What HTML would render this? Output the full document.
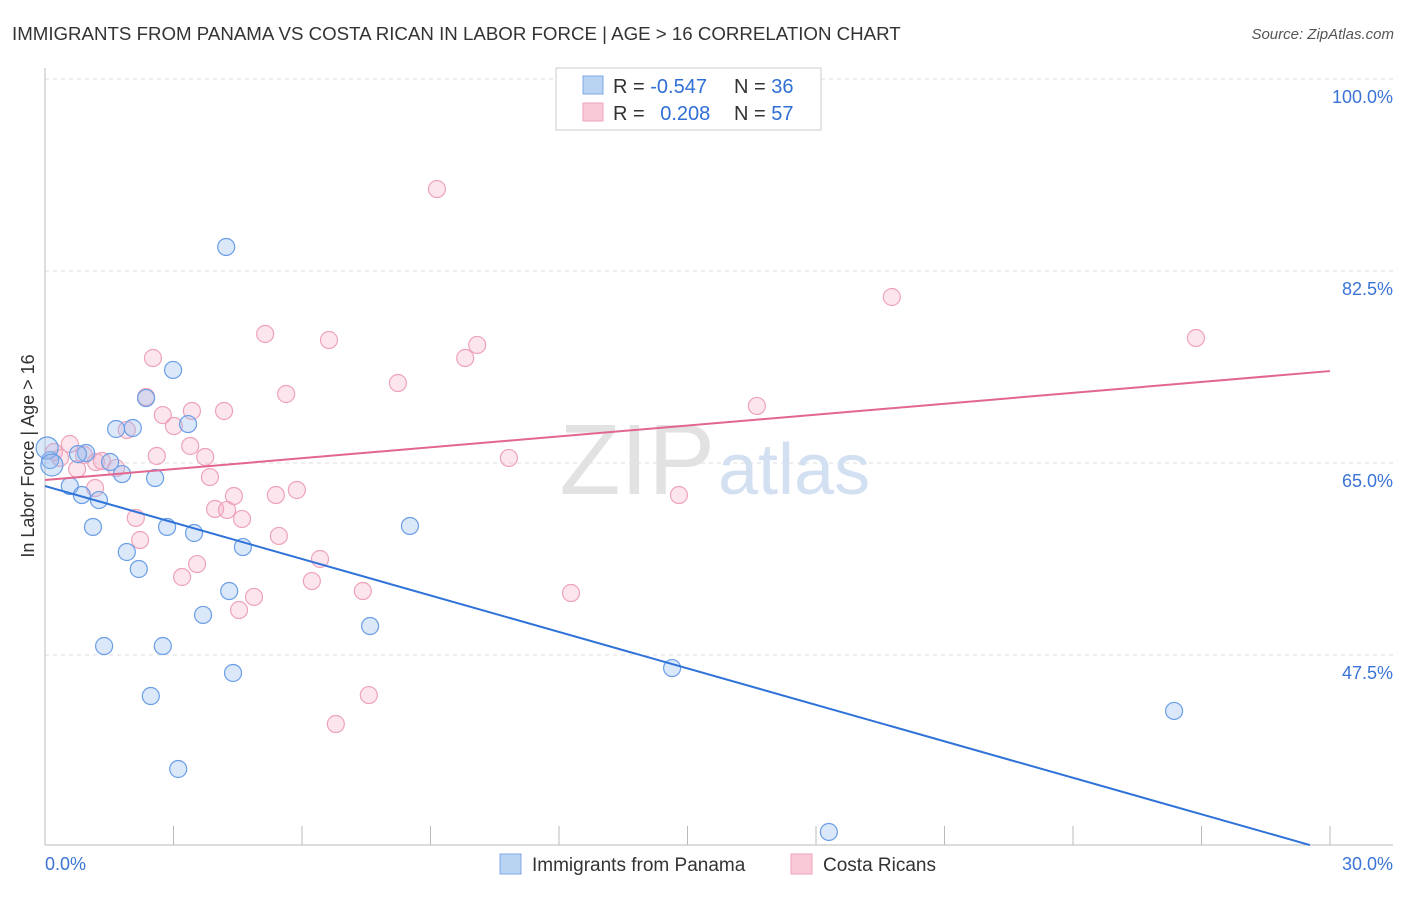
<!DOCTYPE html>
<html><head><meta charset="utf-8"><style>
body{margin:0;background:#fff;font-family:"Liberation Sans",sans-serif;}
svg text{font-family:"Liberation Sans",sans-serif;}
</style></head><body>
<svg id="chart" width="1406" height="892">
<text x="12" y="40" font-size="18.7" fill="#333">IMMIGRANTS FROM PANAMA VS COSTA RICAN IN LABOR FORCE | AGE &gt; 16 CORRELATION CHART</text>
<text x="1394" y="39" font-size="15" fill="#555" font-style="italic" text-anchor="end">Source: ZipAtlas.com</text>
<g id="grid"></g>
<text x="715" y="494" font-size="100" fill="#e2e2e2" text-anchor="end" font-family="Liberation Serif">ZIP</text>
<text x="718" y="494" font-size="72" fill="#d3e0f2">atlas</text>
<g id="pts"></g>
<g id="lines"></g>
<text transform="translate(34,456) rotate(-90)" font-size="18" fill="#333" text-anchor="middle">In Labor Force | Age &gt; 16</text>
<g>
<rect x="556" y="68" width="265" height="62" fill="#fff" stroke="#ccc"/>
<rect x="583" y="76" width="20" height="18" fill="#b9d3f3" stroke="#7ea9e6"/>
<rect x="583" y="103" width="20" height="18" fill="#f9c9d7" stroke="#eea3ba"/>
<text x="613" y="93" font-size="20" fill="#333">R = <tspan fill="#2f6fd6">-0.547</tspan></text>
<text x="734" y="93" font-size="20" fill="#333">N = <tspan fill="#2f6fd6">36</tspan></text>
<text x="613" y="120" font-size="20" fill="#333">R = <tspan fill="#2f6fd6" dx="10">0.208</tspan></text>
<text x="734" y="120" font-size="20" fill="#333">N = <tspan fill="#2f6fd6">57</tspan></text>
</g>
<g>
<rect x="500" y="854" width="21" height="20" fill="#b9d3f3" stroke="#7ea9e6"/>
<text x="532" y="871" font-size="19" fill="#333">Immigrants from Panama</text>
<rect x="791" y="854" width="21" height="20" fill="#f9c9d7" stroke="#eea3ba"/>
<text x="823" y="871" font-size="19" fill="#333">Costa Ricans</text>
</g>
</svg>
<script>
const yTicks=[100,82.5,65,47.5];
const xTicks=[0,3,6,9,12,15,18,21,24,27,30];
const blueX=[4.23,2.99,2.36,1.66,2.05,3.34,0.96,0.77,1.52,1.80,2.57,0.12,0.58,0.86,1.26,1.12,2.85,3.48,8.52,1.91,4.62,2.19,4.30,3.69,7.59,1.38,2.75,4.39,2.47,14.64,26.36,3.11,18.30,0.05,0.16];
const blueY=[84.69,73.48,70.92,68.10,68.19,68.55,65.91,65.81,65.09,63.99,63.63,65.27,62.90,62.08,61.62,59.17,59.17,58.62,59.26,56.89,57.34,55.34,53.33,51.15,50.14,48.32,48.32,45.86,43.76,46.31,42.40,37.11,31.37,66.37,64.82];
const pinkX=[9.15,19.77,5.14,6.63,10.09,2.52,9.81,8.24,26.87,5.63,2.36,16.62,4.18,3.43,2.75,3.01,1.91,3.39,0.58,0.21,1.19,1.66,0.75,2.61,3.74,10.83,3.85,1.17,4.41,5.39,5.88,14.80,3.97,4.25,4.60,2.12,2.22,5.46,6.42,3.55,3.20,6.23,7.42,12.28,4.88,4.53,7.56,6.79,0.35,0.91,1.33];
const pinkY=[89.97,80.13,76.76,76.21,75.76,74.57,74.57,72.29,76.39,71.29,71.02,70.20,69.74,69.74,69.37,68.37,68.01,66.55,66.73,66.00,65.09,64.54,64.45,65.64,65.55,65.46,63.72,62.72,61.99,62.08,62.54,62.08,60.81,60.72,59.90,59.99,57.98,58.35,56.25,55.79,54.61,54.24,53.33,53.15,52.79,51.60,43.85,41.21,65.46,65.73,65.18];
const blueTrendX=[0,29.53];
const blueTrendY=[62.9,30.18];
const pinkTrendX=[0,30];
const pinkTrendY=[63.45,73.38];
const NS='http://www.w3.org/2000/svg';
const sx=v=>45+v/30*1285;
const sy=v=>79+(100-v)/17.5*192;
function mk(tag,attrs,parent){const e=document.createElementNS(NS,tag);for(const k in attrs)e.setAttribute(k,attrs[k]);parent.appendChild(e);return e;}
const grid=document.getElementById('grid');
yTicks.forEach(t=>{
 const l=mk('line',{x1:45,x2:1393,y1:sy(t),y2:sy(t),stroke:'#ddd','stroke-dasharray':'4,4'},grid);
 
 
 const tx=mk('text',{x:1393,y:sy(t)+24,'font-size':18,fill:'#3b74d6','text-anchor':'end'},grid);
 tx.textContent=t.toFixed(1)+'%';
 
 
});
const ax=mk('line',{x1:45,x2:1393,y1:845,y2:845,stroke:'#bbb'},grid);


const ay=mk('line',{x1:45,x2:45,y1:68,y2:845,stroke:'#bbb'},grid);


xTicks.forEach(t=>{
 const l=mk('line',{x1:sx(t),x2:sx(t),y1:826,y2:845,stroke:'#bbb'},grid);
 
 
});
[[0,'0.0%','start',45],[30,'30.0%','end',1393]].forEach(a=>{
 const tx=mk('text',{x:a[3],y:870,'font-size':18,fill:'#3b74d6','text-anchor':a[2]},grid);
 tx.textContent=a[1];
 
 
});
const pts=document.getElementById('pts');
pinkX.forEach((x,i)=>{
 const c=mk('circle',{cx:sx(x),cy:sy(pinkY[i]),r:8.5,fill:'rgba(246,170,195,0.3)',stroke:'#eea3ba','stroke-width':1.2},pts);
 
 
});
blueX.forEach((x,i)=>{
 const c=mk('circle',{cx:sx(x),cy:sy(blueY[i]),r:i>=33?11:8.5,fill:'rgba(150,190,240,0.35)',stroke:'#6b9ee6','stroke-width':1.2},pts);
 
 
});
const lines=document.getElementById('lines');
const lb=mk('line',{x1:sx(blueTrendX[0]),y1:sy(blueTrendY[0]),x2:sx(blueTrendX[1]),y2:sy(blueTrendY[1]),stroke:'#2f72d8','stroke-width':2},lines);


const lp=mk('line',{x1:sx(pinkTrendX[0]),y1:sy(pinkTrendY[0]),x2:sx(pinkTrendX[1]),y2:sy(pinkTrendY[1]),stroke:'#e2668f','stroke-width':2},lines);


</script>
</body></html>
